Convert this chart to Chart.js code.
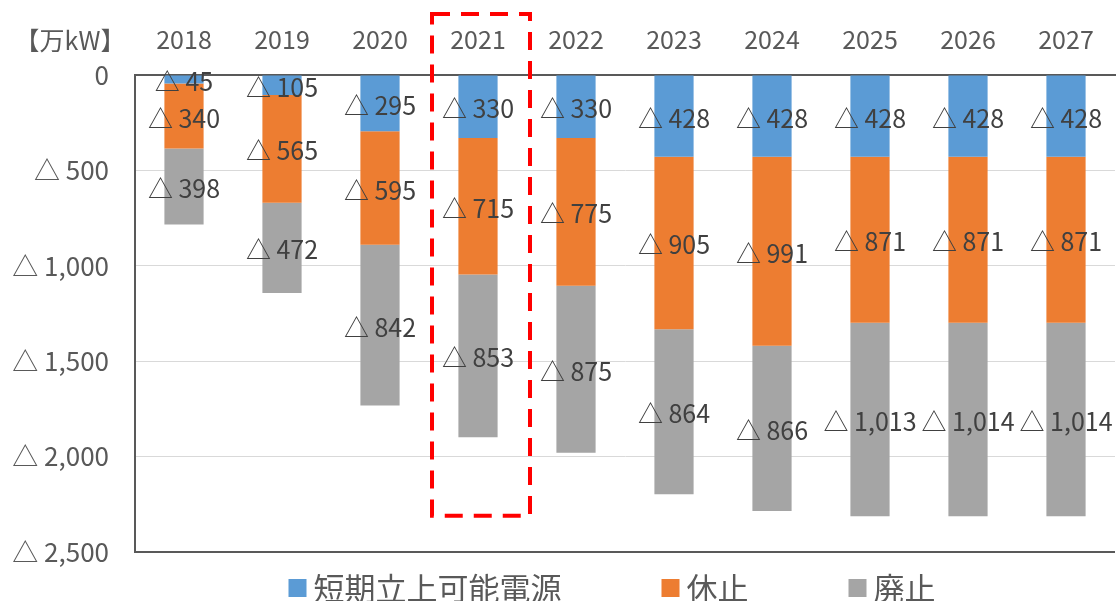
<!DOCTYPE html>
<html>
<head>
<meta charset="utf-8">
<script src="https://cdn.jsdelivr.net/npm/chart.js@4"></script>
<style>
  html, body { margin: 0; padding: 0; background: #fff; }
  #wrap { width: 1116px; height: 601px; }
</style>
</head>
<body>
<div id="wrap"><canvas id="powerChart" width="1116" height="601"></canvas></div>
<script>
// values in 万kW (shown with △ = reduction)
const years = ['2018', '2019', '2020', '2021', '2022', '2023', '2024', '2025', '2026', '2027'];
const shortTerm = [45, 105, 295, 330, 330, 428, 428, 428, 428, 428];
const suspended = [340, 565, 595, 715, 775, 905, 991, 871, 871, 871];
const retired = [398, 472, 842, 853, 875, 864, 866, 1013, 1014, 1014];
const yTicks = [0, 500, 1000, 1500, 2000, 2500];
const highlightYear = '2021';

const FONT = '"Noto Sans CJK JP", "Noto Sans", sans-serif';

function fmt(v) {
    return v === 0 ? '0' : '△ ' + v.toLocaleString('en-US');
}

// value labels centred in each segment
const segmentLabels = {
    id: 'segmentLabels',
    afterDatasetsDraw(chart) {
        const ctx = chart.ctx;
        ctx.save();
        ctx.font = '25px ' + FONT;
        ctx.fillStyle = '#404040';
        ctx.textAlign = 'center';
        ctx.textBaseline = 'middle';
        chart.data.datasets.forEach((ds, i) => {
            chart.getDatasetMeta(i).data.forEach((bar, j) => {
                const p = bar.getProps(['x', 'y', 'base'], true);
                ctx.fillText(fmt(ds.data[j]), p.x, (p.y + p.base) / 2 + 2);
            });
        });
        ctx.restore();
    }
};

// unit label, legend row and red dashed box around the highlighted year
const extras = {
    id: 'extras',
    afterDraw(chart) {
        const ctx = chart.ctx;
        const xs = chart.scales.x;
        const ys = chart.scales.y;
        const area = chart.chartArea;
        ctx.save();
        ctx.font = '25px ' + FONT;
        ctx.fillStyle = '#595959';
        ctx.textAlign = 'center';
        ctx.textBaseline = 'middle';
        ctx.fillText('【万kW】', 70, 40);

        // legend (Excel style: small square + large label, wide gaps)
        ctx.font = '31px ' + FONT;
        ctx.textAlign = 'left';
        const box = 18, gapIn = 7, gapOut = 100;
        const items = chart.data.datasets.map(ds => ({
            text: ds.label,
            color: ds.backgroundColor,
            w: box + gapIn + ctx.measureText(ds.label).width
        }));
        const total = items.reduce((s, it) => s + it.w, 0) + gapOut * (items.length - 1);
        let x = (area.left + area.right) / 2 - 13 - total / 2;
        const ly = area.bottom + 36;
        items.forEach(it => {
            ctx.fillStyle = it.color;
            ctx.fillRect(x, ly - box / 2, box, box);
            ctx.fillStyle = '#595959';
            ctx.fillText(it.text, x + box + gapIn, ly);
            x += it.w + gapOut;
        });

        const idx = years.indexOf(highlightYear);
        const cx = xs.getPixelForValue(idx);
        const half = (xs.getPixelForValue(1) - xs.getPixelForValue(0)) / 2;
        ctx.strokeStyle = '#ff0000';
        ctx.lineWidth = 4;
        ctx.setLineDash([18, 11]);
        ctx.strokeRect(cx - half + 3, 14, half * 2, ys.getPixelForValue(2310) - 14);
        ctx.restore();
    }
};

new Chart(document.getElementById('powerChart'), {
    type: 'bar',
    data: {
        labels: years,
        datasets: [
            { label: '短期立上可能電源', data: shortTerm, backgroundColor: '#5B9BD5' },
            { label: '休止', data: suspended, backgroundColor: '#ED7D31' },
            { label: '廃止', data: retired, backgroundColor: '#A5A5A5' }
        ]
    },
    options: {
        responsive: false,
        animation: false,
        barPercentage: 0.4,
        categoryPercentage: 1.0,
        layout: { padding: { left: 0, right: 1, top: 0, bottom: 49 } },
        plugins: {
            tooltip: { enabled: false },
            legend: { display: false }
        },
        scales: {
            x: {
                position: 'top',
                stacked: true,
                grid: { display: false },
                border: { display: true, color: '#595959', width: 2 },
                ticks: {
                    font: { family: FONT, size: 25 },
                    color: '#595959',
                    padding: 13
                },
                afterFit(scale) { scale.height = 75; }
            },
            y: {
                stacked: true,
                reverse: true,
                min: 0,
                max: 2500,
                afterBuildTicks(scale) { scale.ticks = yTicks.map(v => ({ value: v })); },
                grid: {
                    color: ctx => (ctx.tick && ctx.tick.value === 2500) ? '#595959' : '#d9d9d9',
                    lineWidth: ctx => (ctx.tick && ctx.tick.value === 2500) ? 2 : 1,
                    drawTicks: false
                },
                border: { display: true, color: '#595959', width: 2 },
                ticks: {
                    font: { family: FONT, size: 26 },
                    color: '#595959',
                    padding: 26,
                    callback: v => fmt(v)
                },
                afterFit(scale) { scale.width = 135; }
            }
        }
    },
    plugins: [segmentLabels, extras]
});
</script>
</body>
</html>
